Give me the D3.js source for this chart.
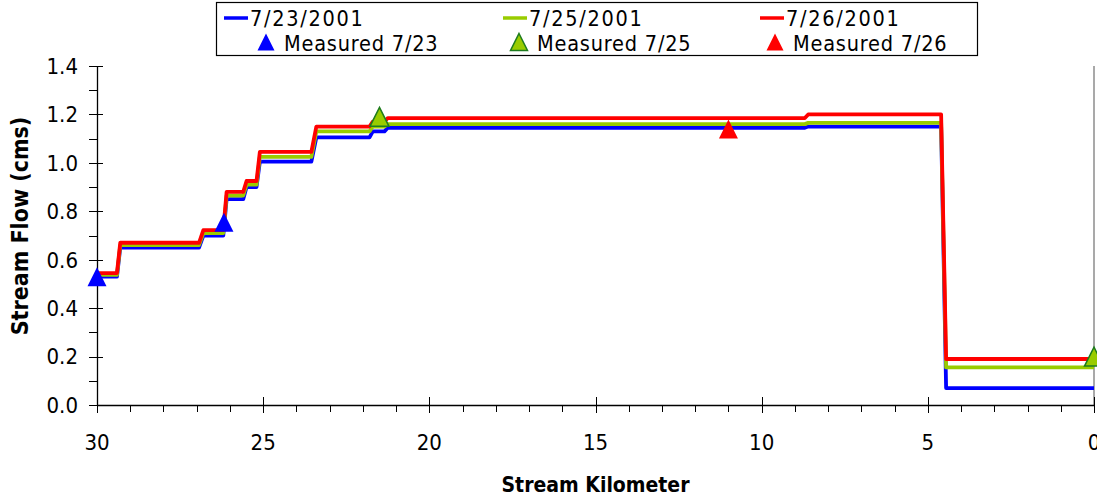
<!DOCTYPE html>
<html>
<head>
<meta charset="utf-8">
<script src="https://cdn.jsdelivr.net/npm/d3@7"></script>
<style>
  html, body { margin: 0; padding: 0; background: #fff; }
  svg { display: block; font-family: "DejaVu Sans", sans-serif; font-stretch: condensed; }
</style>
</head>
<body>
<svg id="chart" width="1097" height="499"></svg>
<script>
// Stream kilometre breakpoints shared by all three model runs
const streamKm = [30.0, 29.4, 29.3, 26.93, 26.8, 26.2, 26.1, 25.6, 25.5, 25.2, 25.1, 23.55, 23.4,
                  21.8, 21.7, 21.35, 21.25, 8.7, 8.6, 4.6, 4.45, 0.0];

// Simulated stream flow (cms) at each breakpoint
const flow0723 = [0.53, 0.53, 0.65, 0.65, 0.70, 0.70, 0.85, 0.85, 0.90, 0.90, 1.005, 1.005, 1.105,
                  1.105, 1.13, 1.13, 1.145, 1.145, 1.15, 1.15, 0.07, 0.07];
const flow0725 = [0.537, 0.537, 0.66, 0.66, 0.71, 0.71, 0.865, 0.865, 0.91, 0.91, 1.025, 1.025, 1.13,
                  1.13, 1.15, 1.15, 1.16, 1.16, 1.165, 1.165, 0.155, 0.155];
const flow0726 = [0.545, 0.545, 0.67, 0.67, 0.722, 0.722, 0.88, 0.88, 0.925, 0.925, 1.045, 1.045, 1.15,
                  1.15, 1.17, 1.17, 1.185, 1.185, 1.20, 1.20, 0.19, 0.19];

// Field measurements
const measuredKm0723 = [30.0, 26.18];
const measuredQ0723  = [0.53, 0.755];
const measuredKm0725 = [21.5, 0.0];
const measuredQ0725  = [1.19, 0.20];
const measuredKm0726 = [11.0];
const measuredQ0726  = [1.14];

// Axis ticks
const xTicks = [30, 25, 20, 15, 10, 5, 0];
const yTicks = [0.0, 0.2, 0.4, 0.6, 0.8, 1.0, 1.2, 1.4];

const lineLabels = ["7/23/2001", "7/25/2001", "7/26/2001"];
const pointLabels = ["Measured 7/23", "Measured 7/25", "Measured 7/26"];

const svg = d3.select("#chart");
const plotLeft = 97, plotRight = 1094, plotTop = 66, plotBottom = 405;

const x = d3.scaleLinear().domain([30, 0]).range([plotLeft, plotRight]);
const y = d3.scaleLinear().domain([0, 1.4]).range([plotBottom, plotTop]);

const colors = { blue: "#0000ff", green: "#99cc00", red: "#ff0000" };

// Right edge of plot area
svg.append("line")
  .attr("x1", plotRight).attr("x2", plotRight).attr("y1", plotTop).attr("y2", plotBottom)
  .attr("stroke", "#8c8c8c").attr("stroke-width", 1.5);

// Y axis with major ticks crossing and minor ticks outside
const yMinor = d3.range(0, 15).map(i => i / 10);
const gy = svg.append("g");
gy.selectAll("line.minor").data(yMinor).join("line")
  .attr("x1", plotLeft - 8).attr("x2", plotLeft)
  .attr("y1", d => Math.round(y(d)) + 0.5).attr("y2", d => Math.round(y(d)) + 0.5)
  .attr("stroke", "#000");
gy.selectAll("line.major").data(yTicks).join("line")
  .attr("x1", plotLeft - 8).attr("x2", plotLeft + 6)
  .attr("y1", d => Math.round(y(d)) + 0.5).attr("y2", d => Math.round(y(d)) + 0.5)
  .attr("stroke", "#000");
gy.append("line")
  .attr("x1", plotLeft + 0.5).attr("x2", plotLeft + 0.5).attr("y1", plotTop).attr("y2", plotBottom)
  .attr("stroke", "#000").attr("stroke-width", 1.3);
gy.selectAll("text").data(yTicks).join("text")
  .attr("x", 78).attr("y", d => y(d))
  .attr("dy", "0.36em")
  .attr("text-anchor", "end")
  .attr("font-size", 22)
  .text(d => d3.format(".1f")(d));

// X axis
const xMinor = d3.range(0, 31);
const gx = svg.append("g");
gx.selectAll("line.minor").data(xMinor).join("line")
  .attr("x1", d => Math.round(x(d)) + 0.5).attr("x2", d => Math.round(x(d)) + 0.5)
  .attr("y1", plotBottom).attr("y2", plotBottom + 7)
  .attr("stroke", "#000");
gx.selectAll("line.major").data(xTicks).join("line")
  .attr("x1", d => Math.round(x(d)) + 0.5).attr("x2", d => Math.round(x(d)) + 0.5)
  .attr("y1", plotBottom - 8).attr("y2", plotBottom + 8)
  .attr("stroke", "#000");
gx.append("line")
  .attr("x1", plotLeft).attr("x2", plotRight).attr("y1", plotBottom + 0.5).attr("y2", plotBottom + 0.5)
  .attr("stroke", "#000").attr("stroke-width", 1.3);
gx.selectAll("text").data(xTicks).join("text")
  .attr("x", d => x(d)).attr("y", 450)
  .attr("text-anchor", "middle")
  .attr("font-size", 22)
  .text(d => d);

// Axis titles
svg.append("text")
  .attr("x", (plotLeft + plotRight) / 2).attr("y", 492)
  .attr("text-anchor", "middle")
  .attr("font-size", 21).attr("font-weight", "bold")
  .text("Stream Kilometer");
svg.append("text")
  .attr("transform", `translate(28, 226) rotate(-90)`)
  .attr("text-anchor", "middle")
  .attr("font-size", 23).attr("font-weight", "bold")
  .text("Stream Flow (cms)");

// Simulated flow profiles
const line = d3.line().x(d => x(d[0])).y(d => y(d[1]));
const series = [
  { values: flow0723, color: colors.blue },
  { values: flow0725, color: colors.green },
  { values: flow0726, color: colors.red }
];
series.forEach(s => {
  svg.append("path")
    .datum(streamKm.map((k, i) => [k, s.values[i]]))
    .attr("d", line)
    .attr("fill", "none")
    .attr("stroke", s.color)
    .attr("stroke-width", 3.8)
    .attr("stroke-linejoin", "round");
});

// Triangle marker centred on its box
function tri(cx, cy, h) {
  const p = d3.path();
  p.moveTo(cx, cy - h / 2);
  p.lineTo(cx + h / 2, cy + h / 2);
  p.lineTo(cx - h / 2, cy + h / 2);
  p.closePath();
  return p.toString();
}

const measured = [
  { km: measuredKm0723, q: measuredQ0723, fill: colors.blue, stroke: "none" },
  { km: measuredKm0725, q: measuredQ0725, fill: colors.green, stroke: "#1e7b1e" },
  { km: measuredKm0726, q: measuredQ0726, fill: colors.red, stroke: "none" }
];
measured.forEach(m => {
  svg.append("g").selectAll("path")
    .data(m.km.map((k, i) => [k, m.q[i]]))
    .join("path")
    .attr("d", d => tri(x(d[0]), y(d[1]), 19))
    .attr("fill", m.fill)
    .attr("stroke", m.stroke)
    .attr("stroke-width", 1.5);
});

// Legend: simulated runs on the first row, measurements on the second
const legend = svg.append("g");
legend.append("rect")
  .attr("x", 216.5).attr("y", 2.5).attr("width", 761).attr("height", 53)
  .attr("fill", "#fff").attr("stroke", "#000").attr("stroke-width", 1.2);
const lineKeyX = [224, 503, 760];
const markerKeyX = [266, 519, 775];
const colColors = [colors.blue, colors.green, colors.red];
lineKeyX.forEach((lx, i) => {
  legend.append("line")
    .attr("x1", lx).attr("x2", lx + 24).attr("y1", 18).attr("y2", 18)
    .attr("stroke", colColors[i]).attr("stroke-width", 3.5);
  legend.append("text")
    .attr("x", lx + 26).attr("y", 25.5)
    .attr("font-size", 21.5)
    .attr("letter-spacing", 1.7)
    .text(lineLabels[i]);
});
markerKeyX.forEach((mx, i) => {
  legend.append("path")
    .attr("d", tri(mx, 42, 17))
    .attr("fill", colColors[i])
    .attr("stroke", i === 1 ? "#1e7b1e" : "none")
    .attr("stroke-width", 1.5);
  legend.append("text")
    .attr("x", mx + 18).attr("y", 50.5)
    .attr("font-size", 21.5)
    .attr("letter-spacing", 0.8)
    .text(pointLabels[i]);
});
</script>
</body>
</html>
